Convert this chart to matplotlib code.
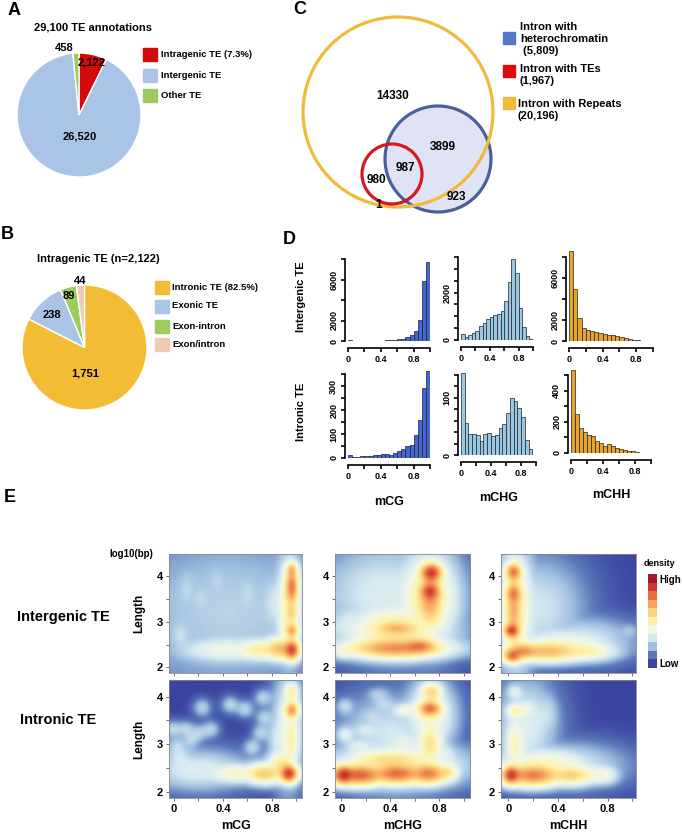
import numpy as np
import matplotlib
matplotlib.use("Agg")
import matplotlib.pyplot as plt
from matplotlib.patches import Circle, Rectangle
from matplotlib.colors import LinearSegmentedColormap

plt.rcParams['font.family'] = ['Liberation Sans', 'DejaVu Sans']
plt.rcParams['font.weight'] = 'bold'

# ---- data ----
pieA_labels = ['Intragenic TE (7.3%)', 'Intergenic TE', 'Other TE']
pieA_values = [2122, 26520, 458]
pieA_text = ['2,122', '26,520', '458']
pieA_colors = ['#d40a0a', '#a9c4e6', '#9dcb5c']

pieB_labels = ['Intronic TE (82.5%)', 'Exonic TE', 'Exon-intron', 'Exon/intron']
pieB_values = [1751, 238, 89, 44]
pieB_text = ['1,751', '238', '89', '44']
pieB_colors = ['#f2bd35', '#a9c4e6', '#9dcb5c', '#efcbb4']

venn_labels = ['Intron with\nheterochromatin\n (5,809)', 'Intron with TEs\n(1,967)',
               'Intron with Repeats\n(20,196)']
venn_colors = ['#5577c6', '#dd0a0a', '#f0ba3c']
venn_regions = ['14330', '3899', '987', '980', '923', '1']

meth_labels = ['mCG', 'mCHG', 'mCHH']
hist_colors = ['#4565d3', '#98c8e3', '#e8a42a']
bin_edges = np.linspace(0, 1, 21)
inter_mCG = [70, 35, 30, 30, 30, 30, 35, 40, 45, 50, 60, 90, 150, 200, 350, 560, 950, 2070, 5900, 7750]
inter_mCHG = [245, 130, 190, 290, 360, 576, 720, 865, 980, 1040, 1095, 1225, 1657, 2450, 3430, 2830, 1360, 560, 170, 50]
inter_mCHH = [8600, 5000, 2190, 1250, 1060, 940, 810, 750, 690, 600, 530, 440, 340, 280, 220, 125, 60, 20, 10, 0]
intron_mCG = [11, 6, 6, 7, 8, 10, 11, 14, 17, 17, 11, 22, 29, 36, 52, 55, 95, 158, 291, 361]
intron_mCHG = [143, 56, 37, 37, 35, 24, 37, 38, 33, 35, 48, 54, 74, 100, 94, 83, 66, 26, 11, 0]
intron_mCHH = [532, 249, 160, 132, 117, 106, 79, 64, 43, 57, 43, 32, 26, 21, 15, 11, 6, 3, 0, 0]

# density hot spots: (mC level, log10 length, spread x, spread y, relative density)
dens_inter_mCG = [(0.45, 3.2, 0.8, 1.5, 0.24), (0.1, 3.7, 0.04, 0.45, 0.3), (0.22, 3.5, 0.04, 0.35, 0.3),
                  (0.05, 2.7, 0.06, 0.35, 0.31), (0.35, 3.9, 0.04, 0.35, 0.29), (0.6, 3.6, 0.05, 0.45, 0.29),
                  (0.8, 3.4, 0.06, 0.6, 0.31), (0.45, 2.38, 0.4, 0.25, 0.4), (0.7, 2.38, 0.2, 0.2, 0.54),
                  (0.86, 2.4, 0.12, 0.22, 0.68), (0.94, 3.3, 0.09, 1.0, 0.5),
                  (0.965, 2.38, 0.05, 0.2, 1.05), (0.965, 2.8, 0.045, 0.13, 0.92), (0.965, 3.2, 0.04, 0.3, 0.72),
                  (0.965, 3.75, 0.04, 0.38, 0.97), (0.965, 4.12, 0.035, 0.16, 0.94)]
dens_inter_mCHG = [(0.35, 3.6, 0.45, 0.9, 0.32), (0.1, 2.9, 0.2, 0.4, 0.35), (0.45, 2.8, 0.38, 0.5, 0.53),
                   (0.45, 2.42, 0.38, 0.2, 0.77), (0.62, 2.45, 0.16, 0.15, 0.88), (0.02, 2.35, 0.06, 0.13, 0.55),
                   (0.45, 2.85, 0.2, 0.12, 0.75), (0.72, 3.5, 0.11, 0.65, 0.72), (0.72, 3.65, 0.08, 0.22, 0.98),
                   (0.73, 4.06, 0.08, 0.2, 1.0), (0.7, 3.5, 0.22, 0.9, 0.52)]
dens_inter_mCHH = [(0.25, 3.3, 0.3, 0.9, 0.29), (0.6, 2.6, 0.35, 0.4, 0.3), (0.45, 2.5, 0.4, 0.3, 0.42),
                   (0.3, 2.35, 0.35, 0.2, 0.68), (0.12, 2.35, 0.14, 0.17, 0.8), (0.6, 2.35, 0.25, 0.18, 0.54),
                   (0.06, 3.3, 0.13, 1.1, 0.5), (0.04, 3.3, 0.06, 0.9, 0.74),
                   (0.04, 4.08, 0.055, 0.18, 0.94), (0.04, 3.6, 0.055, 0.22, 0.92), (0.025, 2.8, 0.055, 0.13, 1.12),
                   (0.03, 2.25, 0.06, 0.13, 1.0), (0.98, 2.8, 0.04, 0.1, 0.32)]
dens_intron_mCG = [(0.23, 3.77, 0.05, 0.13, 0.32), (0.46, 3.83, 0.05, 0.13, 0.32), (0.58, 3.74, 0.05, 0.13, 0.32),
                   (0.73, 3.98, 0.05, 0.13, 0.32), (0.74, 3.56, 0.05, 0.13, 0.32), (0.0, 3.31, 0.05, 0.13, 0.33),
                   (0.1, 3.31, 0.05, 0.13, 0.33), (0.21, 3.24, 0.05, 0.13, 0.32), (0.3, 3.31, 0.05, 0.13, 0.32),
                   (0.02, 2.96, 0.05, 0.13, 0.34), (0.14, 3.1, 0.05, 0.13, 0.33), (0.71, 3.24, 0.05, 0.13, 0.32),
                   (0.64, 2.93, 0.05, 0.13, 0.33), (0.85, 3.1, 0.07, 0.5, 0.33),
                   (0.2, 2.45, 0.35, 0.35, 0.33), (0.05, 2.65, 0.1, 0.35, 0.32), (0.5, 2.38, 0.22, 0.18, 0.47),
                   (0.74, 2.38, 0.16, 0.19, 0.64), (0.94, 2.38, 0.06, 0.17, 1.05), (0.88, 2.55, 0.1, 0.28, 0.57),
                   (0.965, 3.1, 0.045, 0.55, 0.57), (0.965, 3.72, 0.045, 0.16, 0.92), (0.965, 4.1, 0.04, 0.18, 0.66),
                   (0.93, 3.3, 0.1, 1.0, 0.4)]
dens_intron_mCHG = [(0.02, 2.35, 0.07, 0.18, 1.05), (0.15, 2.35, 0.2, 0.2, 0.85), (0.45, 2.38, 0.22, 0.2, 0.83),
                    (0.7, 2.38, 0.15, 0.2, 0.81), (0.86, 2.4, 0.08, 0.18, 0.62), (0.4, 2.68, 0.35, 0.15, 0.6),
                    (0.45, 2.55, 0.45, 0.4, 0.5),
                    (0.72, 3.0, 0.09, 0.45, 0.57), (0.72, 3.75, 0.09, 0.15, 0.9), (0.73, 4.1, 0.08, 0.17, 0.66),
                    (0.72, 3.6, 0.17, 0.6, 0.44), (0.52, 3.72, 0.09, 0.1, 0.52), (0.03, 3.2, 0.05, 0.13, 0.46),
                    (0.03, 3.8, 0.05, 0.13, 0.35), (0.2, 3.3, 0.11, 0.11, 0.37), (0.35, 3.85, 0.08, 0.1, 0.33),
                    (0.25, 3.6, 0.09, 0.1, 0.32), (0.4, 3.3, 0.09, 0.1, 0.33), (0.15, 2.95, 0.12, 0.15, 0.38),
                    (0.5, 3.05, 0.14, 0.15, 0.4), (0.3, 4.05, 0.08, 0.1, 0.3), (0.85, 2.8, 0.07, 0.2, 0.37),
                    (0.4, 3.2, 0.35, 0.7, 0.29)]
dens_intron_mCHH = [(0.02, 2.35, 0.06, 0.18, 1.05), (0.2, 2.35, 0.22, 0.21, 0.79), (0.5, 2.35, 0.2, 0.19, 0.63),
                    (0.75, 2.35, 0.12, 0.17, 0.47), (0.3, 2.6, 0.35, 0.27, 0.46), (0.05, 3.0, 0.07, 0.55, 0.5),
                    (0.05, 3.7, 0.06, 0.13, 0.6), (0.14, 3.75, 0.07, 0.1, 0.5), (0.05, 4.1, 0.05, 0.14, 0.44),
                    (0.15, 3.4, 0.2, 0.8, 0.33), (0.45, 2.55, 0.4, 0.38, 0.32), (0.3, 3.6, 0.09, 0.45, 0.3)]

W, H = 682, 834
fig = plt.figure(figsize=(W / 100, H / 100), dpi=100)
ov = fig.add_axes([0, 0, 1, 1], zorder=10)
ov.set_xlim(0, W)
ov.set_ylim(H, 0)
ov.axis('off')


def px_axes(l, t, w, h):
    return fig.add_axes([l / W, 1 - (t + h) / H, w / W, h / H])


def smooth(D, s=7):
    # gaussian blur, rows then columns
    k = np.exp(-0.5 * (np.arange(-3 * s, 3 * s + 1) / s) ** 2)
    k /= k.sum()
    P = np.pad(D, 3 * s, mode='edge')
    P = np.apply_along_axis(lambda v: np.convolve(v, k, mode='same'), 1, P)
    P = np.apply_along_axis(lambda v: np.convolve(v, k, mode='same'), 0, P)
    return P[3 * s:-3 * s, 3 * s:-3 * s]


for letter, x, y in [('A', 14, 10), ('B', 7, 234), ('C', 300, 9), ('D', 289, 239), ('E', 10, 497)]:
    ov.text(x, y, letter, fontsize=13, ha='center', va='center')

# A pie
ov.text(93, 27, '29,100 TE annotations', fontsize=8, ha='center', va='center')
axA = px_axes(17, 53, 124, 124)
axA.pie(pieA_values, colors=pieA_colors, startangle=90, counterclock=False,
        wedgeprops=dict(edgecolor='white', linewidth=1.0))
axA.set_xlim(-1, 1)
axA.set_ylim(-1, 1)
for (dx, dy), s in zip([(0.21, 0.85), (0.02, -0.35), (-0.24, 1.08)], pieA_text):
    axA.text(dx, dy, s, ha='center', va='center', fontsize=8, clip_on=False)
for lab, c, yc in zip(pieA_labels, pieA_colors, [54, 75, 95]):
    ov.add_patch(Rectangle((143, yc - 6.5), 14, 13, color=c))
    ov.text(161, yc, lab, fontsize=6.8, va='center')

# B pie
ov.text(98, 259, 'Intragenic TE (n=2,122)', fontsize=8, ha='center', va='center')
axB = px_axes(22, 285, 125, 125)
axB.pie(pieB_values, colors=pieB_colors, startangle=90, counterclock=False,
        wedgeprops=dict(edgecolor='white', linewidth=1.0))
axB.set_xlim(-1, 1)
axB.set_ylim(-1, 1)
for (dx, dy), s in zip([(0.01, -0.41), (-0.52, 0.52), (-0.25, 0.82), (-0.07, 1.06)], pieB_text):
    axB.text(dx, dy, s, ha='center', va='center', fontsize=8, clip_on=False)
for lab, c, yc in zip(pieB_labels, pieB_colors, [287, 306, 326, 344]):
    ov.add_patch(Rectangle((155, yc - 6.5), 14, 13, color=c))
    ov.text(172, yc, lab, fontsize=6.8, va='center')

# C venn
ov.add_patch(Circle((438, 159), 53, facecolor='#dfe3f3', edgecolor='none'))
ov.add_patch(Circle((438, 159), 53, fill=False, edgecolor='#4a5f9e', lw=2.3))
ov.add_patch(Circle((398, 112), 95, fill=False, edgecolor='#f0ba3c', lw=2.3))
ov.add_patch(Circle((392, 174), 30, fill=False, edgecolor='#d8161f', lw=2.3))
for s, (x, y) in zip(venn_regions, [(393, 96), (443, 147), (405, 168), (376, 180), (456, 197), (379, 205)]):
    ov.text(x, y, s, fontsize=8.5, ha='center', va='center')
for lab, c, ys, yt, xt in zip(venn_labels, venn_colors, [38, 71, 103], [38.5, 74.5, 109.5], [520, 520, 518]):
    ov.add_patch(Rectangle((503, ys - 6), 12, 12, color=c))
    ov.text(xt, yt, lab, fontsize=8, va='center', linespacing=1.25)

# D histograms
hist_data = [[inter_mCG, inter_mCHG, inter_mCHH], [intron_mCG, intron_mCHG, intron_mCHH]]
# (x of 0, x of 1, baseline px, tick top value, its px, y max, tick step, labelled ticks)
hist_layout = [
    [(348, 430, 341, 8000, 259, 8000, 2000, [0, 2000, 6000]),
     (461, 533, 340, 3500, 257, 3500, 500, [0, 2000]),
     (569, 653, 341, 8000, 257, 8800, 2000, [0, 2000, 6000])],
    [(348, 430, 458, 350, 374, 370, 50, [0, 100, 200, 300]),
     (461, 536, 455, 140, 375, 150, 20, [0, 100]),
     (571, 651, 453, 500, 375, 540, 100, [0, 200, 400])]]
for r in range(2):
    for c in range(3):
        x0, x1, base, tv, tpx, ymax, step, shown = hist_layout[r][c]
        ppu = (base - tpx) / tv
        h = ymax * ppu
        ax = px_axes(x0, base - h, x1 - x0, h)
        ax.bar(bin_edges[:-1], hist_data[r][c], width=0.05, align='edge',
               color=hist_colors[c], edgecolor='#222222', linewidth=0.5)
        ax.set_xlim(0, 1)
        ax.set_ylim(0, ymax)
        ax.patch.set_visible(False)
        for sp in ['top', 'right']:
            ax.spines[sp].set_visible(False)
        ax.spines['left'].set_position(('outward', 2))
        ax.spines['bottom'].set_position(('outward', 5))
        ax.spines['bottom'].set_bounds(0, 1)
        ax.spines['left'].set_bounds(0, tv)
        for sp in ['left', 'bottom']:
            ax.spines[sp].set_linewidth(1.2)
        ax.set_xticks(np.arange(0, 1.01, 0.2))
        ax.set_xticklabels(['0', '', '0.4', '', '0.8', ''])
        yt = np.arange(0, tv + 1, step)
        ax.set_yticks(yt)
        ax.set_yticklabels([str(int(v)) if v in shown else '' for v in yt],
                           rotation=90, va='center')
        ax.tick_params(length=3, width=1.2, labelsize=6.5, pad=2)
        if r == 1:
            ax.text(0.5, -0.5, meth_labels[c], transform=ax.transAxes, fontsize=9,
                    ha='center', va='center')
ov.text(301, 297, 'Intergenic TE', fontsize=8, rotation=90, ha='center', va='center')
ov.text(301, 412, 'Intronic TE', fontsize=8, rotation=90, ha='center', va='center')

# E density maps
cmap = LinearSegmentedColormap.from_list('dens', list(zip(
    np.linspace(0, 1, 11),
    ['#3b44a0', '#5a78ba', '#a0c0df', '#d6e9f1', '#f3f8e6', '#fef1a8',
     '#fbd27f', '#f5a55e', '#e76e41', '#cc3b2c', '#9e1a2a'])))
dens_data = [[dens_inter_mCG, dens_inter_mCHG, dens_inter_mCHH],
             [dens_intron_mCG, dens_intron_mCHG, dens_intron_mCHH]]
col_px = [(169, 302), (335, 470), (501, 636)]
row_px = [(554, 673), (680, 798)]
col_xlim = [(-0.04, 1.045), (-0.05, 1.05), (-0.06, 1.03)]
row_ylim = [(1.88, 4.47), (1.87, 4.35)]
for r in range(2):
    for c in range(3):
        (l, rr), (t, b) = col_px[c], row_px[r]
        ax = px_axes(l, t, rr - l, b - t)
        xl, yl = col_xlim[c], row_ylim[r]
        X, Y = np.meshgrid(np.linspace(*xl, 240), np.linspace(*yl, 240))
        D = np.zeros_like(X)
        for cx, cy, sx, sy, w in dens_data[r][c]:
            D = np.maximum(D, w * np.exp(-0.5 * (((X - cx) / sx) ** 2 + ((Y - cy) / sy) ** 2)))
        D = smooth(D)
        ax.imshow(D, origin='lower', extent=(xl[0], xl[1], yl[0], yl[1]), aspect='auto',
                  cmap=cmap, vmin=0, vmax=0.97, interpolation='bilinear')
        ax.set_xlim(xl)
        ax.set_ylim(yl)
        ax.set_xticks(np.arange(0, 1.01, 0.2))
        ax.set_xticklabels(['0', '', '0.4', '', '0.8', ''] if r == 1 else [])
        ax.set_yticks([2, 2.5, 3, 3.5, 4])
        ax.set_yticklabels(['2', '', '3', '', '4'])
        ax.tick_params(length=2.5, width=0.6, labelsize=8, pad=2, color='#555555')
        for sp in ax.spines.values():
            sp.set_linewidth(0.6)
            sp.set_color('#888888')
        if r == 1:
            ax.text(0.5, -0.24, meth_labels[c], transform=ax.transAxes, fontsize=9,
                    ha='center', va='center')
        if c == 0:
            ax.text(-0.22, 0.5, 'Length', transform=ax.transAxes, fontsize=8.5,
                    rotation=90, ha='center', va='center')
ov.text(131, 554, 'log10(bp)', fontsize=7, ha='center', va='center')
ov.text(63, 617, 'Intergenic TE', fontsize=10.5, ha='center', va='center')
ov.text(58, 720, 'Intronic TE', fontsize=10.5, ha='center', va='center')

# colour key
cax = px_axes(648, 574, 9, 94)
cax.imshow(np.linspace(1, 0, 11).reshape(-1, 1), cmap=cmap, vmin=0, vmax=1,
           aspect='auto', interpolation='nearest')
cax.axis('off')
ov.text(659, 563, 'density', fontsize=6.5, ha='center', va='center')
ov.text(659, 580, 'High', fontsize=7, va='center')
ov.text(659, 664, 'Low', fontsize=7, va='center')

fig.savefig('out.png', dpi=100)
